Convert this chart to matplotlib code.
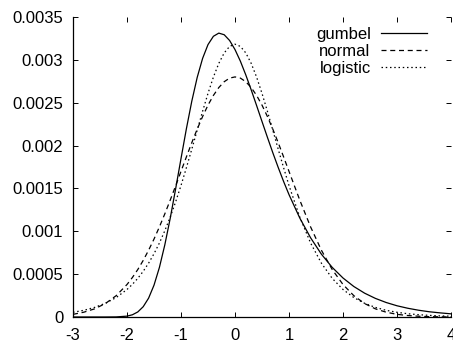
import matplotlib
matplotlib.use("Agg")
import matplotlib.pyplot as plt

plt.rcParams['font.family'] = ['Liberation Sans', 'DejaVu Sans']

# values
x_vals = [-3.0, -2.8, -2.6, -2.4, -2.2, -2.0,
          -1.9, -1.8, -1.7, -1.6, -1.5, -1.4, -1.3, -1.2, -1.1, -1.0,
          -0.9, -0.8, -0.7, -0.6, -0.5, -0.4, -0.3, -0.2, -0.1, 0.0,
          0.1, 0.2, 0.3, 0.4, 0.5, 0.6, 0.7, 0.8, 0.9, 1.0,
          1.2, 1.4, 1.6, 1.8, 2.0, 2.2, 2.4, 2.6, 2.8, 3.0, 3.2, 3.4, 3.6, 3.8, 4.0]

gumbel = [0.0, 0.0, 0.0, 0.0, 0.000001, 0.00001,
          0.000026, 0.000059, 0.00012, 0.00022, 0.000371, 0.000578, 0.000841, 0.00115, 0.001493, 0.001848,
          0.002197, 0.002518, 0.002795, 0.003017, 0.003178, 0.003275, 0.003312, 0.003293, 0.003226, 0.00312,
          0.002984, 0.002824, 0.00265, 0.002467, 0.002281, 0.002097, 0.001917, 0.001745, 0.001581, 0.001428,
          0.001154, 0.000924, 0.000733, 0.000579, 0.000455, 0.000356, 0.000278, 0.000217, 0.000169, 0.000131,
          0.000102, 0.000079, 0.000061, 0.000048, 0.000037]

normal = [0.000031, 0.000056, 0.000095, 0.000157, 0.000249, 0.000379,
          0.000461, 0.000554, 0.00066, 0.000779, 0.000909, 0.001051, 0.001203, 0.001363, 0.001529, 0.001699,
          0.001868, 0.002034, 0.002192, 0.002339, 0.002472, 0.002585, 0.002677, 0.002745, 0.002787, 0.002801,
          0.002787, 0.002745, 0.002677, 0.002585, 0.002472, 0.002339, 0.002192, 0.002034, 0.001868, 0.001699,
          0.001363, 0.001051, 0.000779, 0.000554, 0.000379, 0.000249, 0.000157, 0.000095, 0.000056, 0.000031,
          0.000017, 0.000009, 0.000004, 0.000002, 0.000001]

logistic = [0.000055, 0.000078, 0.000112, 0.00016, 0.000227, 0.000321,
            0.000381, 0.000451, 0.000533, 0.000628, 0.000738, 0.000863, 0.001006, 0.001165, 0.001342, 0.001534,
            0.001742, 0.001958, 0.00218, 0.0024, 0.002609, 0.002799, 0.002959, 0.003081, 0.003157, 0.003183,
            0.003157, 0.003081, 0.002959, 0.002799, 0.002609, 0.0024, 0.00218, 0.001958, 0.001742, 0.001534,
            0.001165, 0.000863, 0.000628, 0.000451, 0.000321, 0.000227, 0.00016, 0.000112, 0.000078, 0.000055,
            0.000038, 0.000027, 0.000019, 0.000013, 0.000009]

xticks = [-3, -2, -1, 0, 1, 2, 3, 4]
xtick_labels = ['-3', '-2', '-1', '0', '1', '2', '3', '4']
yticks = [0, 0.0005, 0.001, 0.0015, 0.002, 0.0025, 0.003, 0.0035]
ytick_labels = ['0', '0.0005', '0.001', '0.0015', '0.002', '0.0025', '0.003', '0.0035']

fig = plt.figure(figsize=(4.53, 3.42), dpi=100)
ax = fig.add_axes([73/453, 1-317/342, 378/453, 300/342])

ax.plot(x_vals, gumbel, color='k', lw=0.9, label='gumbel')
ax.plot(x_vals, normal, color='k', lw=0.9, linestyle=(0, (4, 3)), label='normal')
ax.plot(x_vals, logistic, color='k', lw=0.9, linestyle=(0, (1.2, 2.2)), label='logistic')

ax.set_xlim(-3, 4)
ax.set_ylim(0, 0.0035)
ax.set_xticks(xticks)
ax.set_xticklabels(xtick_labels)
ax.set_yticks(yticks)
ax.set_yticklabels(ytick_labels)

ax.spines['top'].set_visible(False)
ax.spines['right'].set_visible(False)
ax.spines['left'].set_linewidth(0.9)
ax.spines['bottom'].set_linewidth(0.9)
ax.tick_params(direction='in', top=True, right=True, length=3.6, width=0.7,
               labelsize=12, colors='k')
ax.tick_params(axis='y', pad=7)
ax.tick_params(axis='x', pad=8)

ax.legend(loc='upper right', markerfirst=False, frameon=False, fontsize=12,
          handlelength=2.75, handletextpad=0.65, labelspacing=0.12,
          borderaxespad=0.0, bbox_to_anchor=(0.955, 0.99))

fig.savefig("out.png", dpi=100)
